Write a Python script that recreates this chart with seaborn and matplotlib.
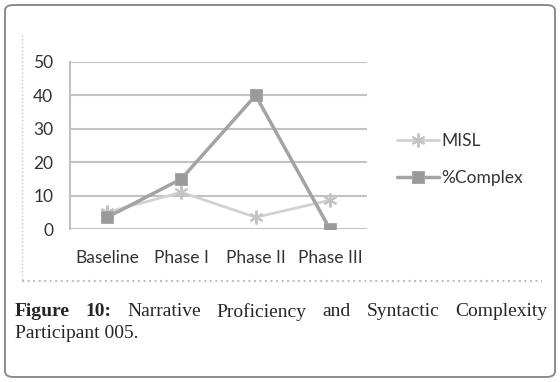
# -*- coding: utf-8 -*-
# narrative proficiency / syntactic complexity chart, participant 005

import matplotlib
matplotlib.use("Agg")
import pandas as pd
import matplotlib.pyplot as plt
import seaborn as sns
from matplotlib.patches import FancyBboxPatch
from matplotlib.lines import Line2D

#%% DATA

phases = ["Baseline", "Phase I", "Phase II", "Phase III"]
misl = [5, 11, 3.5, 8.6]
complex_pct = [3.5, 15, 40, 0]
y_ticks = [0, 10, 20, 30, 40, 50]

caption_line1 = ["Figure", "10:", "Narrative", "Proficiency", "and", "Syntactic", "Complexity"]
caption_line2 = "Participant 005."

df = pd.DataFrame({"Phase": phases, "MISL": misl, "%Complex": complex_pct})

#%% STYLE

sns.set_style("white")
plt.rcParams['font.family'] = ['Lato', 'DejaVu Sans']

W, H = 560, 382
fig = plt.figure(figsize=(W / 100, H / 100), dpi=100)

def px(x, y):
    # pixel coords (from top-left) to figure fraction
    return x / W, 1 - y / H

# outer rounded box
box = FancyBboxPatch(px(5, 377), 550 / W, 372 / H,
                     boxstyle="round,pad=0,rounding_size=0.015",
                     transform=fig.transFigure, facecolor="none",
                     edgecolor="#8c8c8c", lw=1.4)
fig.patches.append(box)

# dotted chart-area outline (left and bottom)
fig.add_artist(Line2D([22 / W, 22 / W], [1 - 35 / H, 1 - 281 / H],
                      transform=fig.transFigure, color="#c8c0c8", lw=1, ls=":"))
fig.add_artist(Line2D([22 / W, 542 / W], [1 - 281 / H, 1 - 281 / H],
                      transform=fig.transFigure, color="#c8b8c8", lw=1.5, ls=":"))

#%% PLOT

ax = fig.add_axes([70 / W, 1 - 229 / H, 297 / W, 167 / H])

sns.lineplot(data=df, x="Phase", y="MISL", ax=ax, color="#d2d2d2", lw=2,
             marker=(6, 2, 0), markersize=10, markeredgewidth=1.5,
             markeredgecolor="#c4c4c4", label="MISL")
sns.lineplot(data=df, x="Phase", y="%Complex", ax=ax, color="#a3a3a3", lw=2.5,
             marker="s", markersize=9, markerfacecolor="#9a9a9a",
             markeredgecolor="#a8a8a8", label="%Complex")

ax.set_xlim(-0.5, len(phases) - 0.5)
ax.set_ylim(0, 50)
ax.set_yticks(y_ticks)
ax.set_xticks(range(len(phases)))
ax.set_xticklabels(phases)
ax.set_xticks([i - 0.5 for i in range(len(phases) + 1)], minor=True)
ax.set_xlabel("")
ax.set_ylabel("")

ax.grid(axis="y", color="#c2c2c2", lw=1.5)
ax.set_axisbelow(True)
for s in ["top", "right", "bottom"]:
    ax.spines[s].set_visible(False)
ax.spines["left"].set_color("#c2c2c2")
ax.spines["left"].set_linewidth(1.5)

ax.tick_params(axis="y", length=5, width=1.2, color="#c2c2c2", pad=7,
               labelsize=12.5, labelcolor="#333333")
ax.tick_params(axis="x", which="major", length=0, pad=15,
               labelsize=12.5, labelcolor="#333333")
ax.tick_params(axis="x", which="minor", length=6, width=1.2, color="#c2c2c2")

leg = ax.legend(loc="upper left", bbox_to_anchor=(397 / W, 1 - 133 / H),
                bbox_transform=fig.transFigure, frameon=False,
                borderpad=0, borderaxespad=0,
                handlelength=2.4, handletextpad=0.15, labelspacing=1.2,
                fontsize=12.5)
for t in leg.get_texts():
    t.set_color("#333333")

#%% CAPTION (justified first line)

renderer = fig.canvas.get_renderer()
serif = ['Liberation Serif', 'DejaVu Serif']
x0, x1, y1 = 15, 547, 312
texts = []
for i, w in enumerate(caption_line1):
    t = fig.text(0, 0, w, family=serif, fontsize=14,
                 weight="bold" if i < 2 else "normal", va="center", ha="left")
    texts.append(t)
widths = [t.get_window_extent(renderer).width for t in texts]
gap = (x1 - x0 - sum(widths)) / (len(texts) - 1)
x = x0
for t, w in zip(texts, widths):
    t.set_position(px(x, y1))
    x += w + gap

fig.text(*px(x0, 333), caption_line2, family=serif, fontsize=14,
         va="center", ha="left")

fig.savefig("out.png", dpi=100)
